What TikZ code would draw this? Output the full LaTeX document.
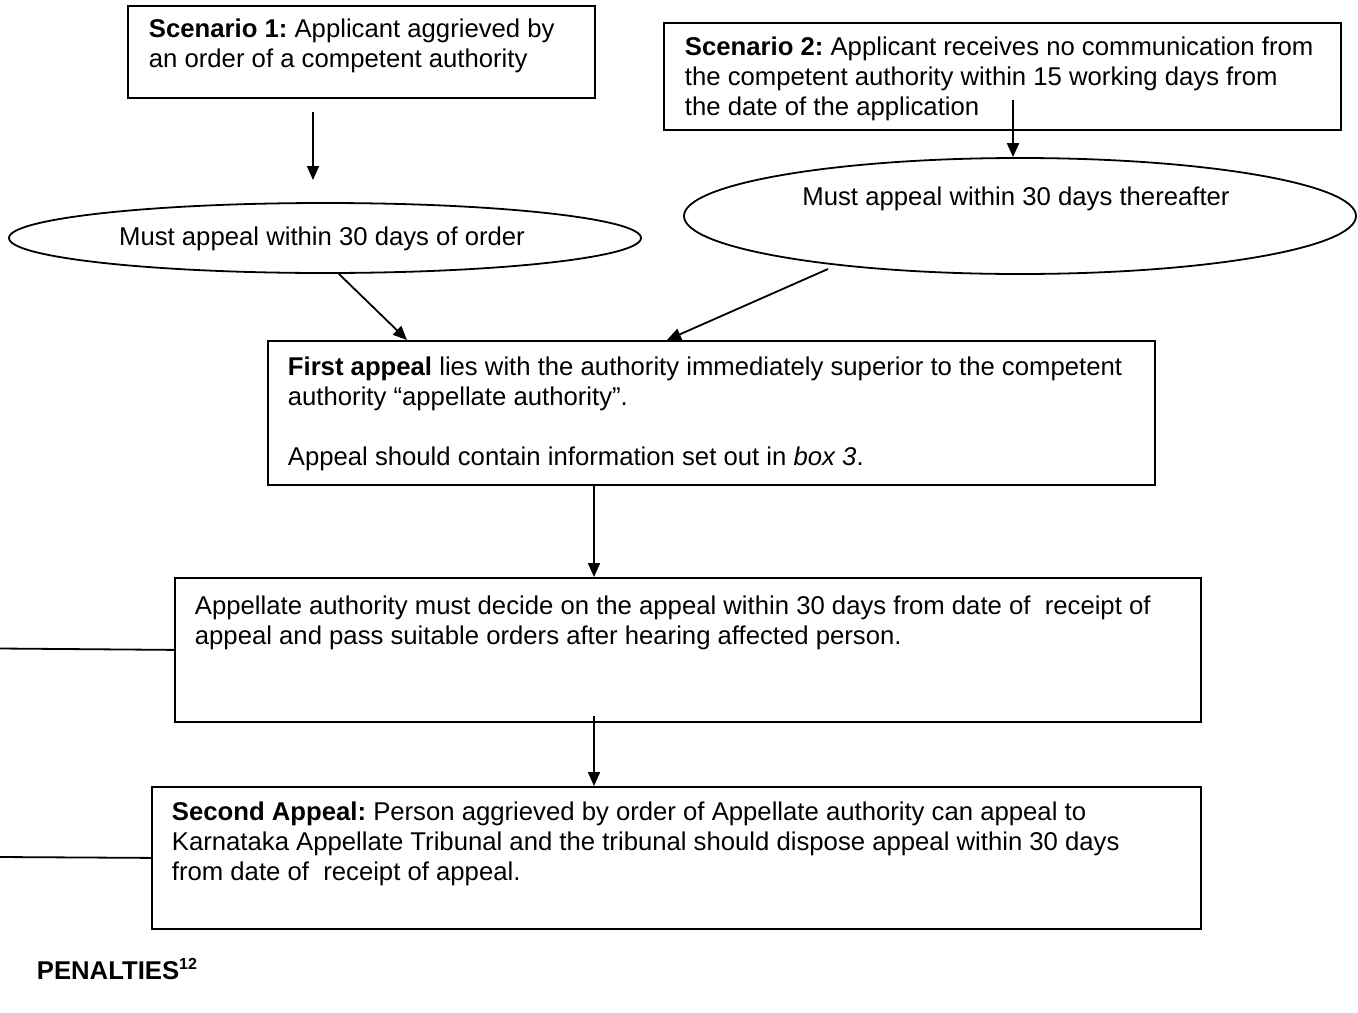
\documentclass[tikz,border=0pt]{standalone}
\usepackage{fontspec}
\setmainfont{Liberation Sans}
\usetikzlibrary{shapes.geometric,arrows.meta}
\frenchspacing
\begin{document}
\begin{tikzpicture}[x=0.5pt,y=-0.5pt,
  line width=0.9pt,
  every node/.style={font=\fontsize{12.85}{15}\selectfont},
  frame/.style={draw, rectangle, anchor=north west, inner sep=0pt},
  oval/.style={draw, ellipse, inner sep=0pt},
  txt/.style={anchor=north west, align=left, inner sep=0pt},
  lbl/.style={anchor=base, inner sep=0pt},
  arr/.style={-{Triangle[length=7pt,width=6pt]}}
]
\useasboundingbox (0,0) rectangle (1358,1012);

% boxes
\node[frame, minimum width=233.5pt, minimum height=46pt] (b1) at (127,5) {};
\node[frame, minimum width=338.5pt, minimum height=53.5pt] (b2) at (663,22) {};
\node[oval, minimum width=316pt, minimum height=35pt] (e1) at (325,238) {};
\node[oval, minimum width=336pt, minimum height=58pt] (e2) at (1020,216) {};
\node[frame, minimum width=443.5pt, minimum height=72pt] (b3) at (267,340) {};
\node[frame, minimum width=513pt, minimum height=72pt] (b4) at (174,577) {};
\node[frame, minimum width=524.5pt, minimum height=71pt] (b5) at (151,786) {};

% texts
\node[txt] (t1) at (148,16) {\strut\textbf{Scenario 1:} Applicant aggrieved by\\an order of a competent authority};
\node[txt] (t2) at (684,34) {\strut\textbf{Scenario 2:} Applicant receives no communication from\\the competent authority within 15 working days from\\the date of the application};
\node[lbl] (te1) at (322,245) {Must appeal within 30 days of order};
\node[lbl] (te2) at (1016,205) {Must appeal within 30 days thereafter};
\node[txt] (t3) at (287,354) {\strut\textbf{First appeal} lies with the authority immediately superior to the competent\\authority “appellate authority”.\\[15pt]Appeal should contain information set out in \textit{box 3}.};
\node[txt] (t4) at (194,593) {\strut Appellate authority must decide on the appeal within 30 days from date of\ \ receipt of\\appeal and pass suitable orders after hearing affected person.};
\node[txt] (t5) at (171,799) {\strut\textbf{Second Appeal:} Person aggrieved by order of Appellate authority can appeal to\\Karnataka Appellate Tribunal and the tribunal should dispose appeal within 30 days\\from date of\ \ receipt of appeal.};
\node[lbl, anchor=base west] (pen) at (36,979) {\textbf{PENALTIES\raisebox{0.38em}{\fontsize{8}{8}\selectfont 12}}};

% free connector ends
\coordinate (a1s) at (313,112);
\coordinate (a1e) at (313,180);
\coordinate (a2s) at (1013,100);
\coordinate (a3s) at (338,273);
\coordinate (a3e) at (407,340);
\coordinate (a4s) at (828,269);
\coordinate (a4e) at (667,340);
\coordinate (a5s) at (594,484);
\coordinate (a6s) at (594,716);
\coordinate (l1) at (0,648.5);
\coordinate (l2) at (0,857);

% connectors
\draw[arr] (a1s) -- (a1e);
\draw[arr] (a2s) -- (a2s |- e2.north);
\draw[arr] (a3s) -- (a3e);
\draw[arr] (a4s) -- (a4e);
\draw[arr] (a5s) -- (a5s |- b4.north);
\draw[arr] (a6s) -- (a6s |- b5.north);
\draw (l1) -- (b4.west);
\draw (l2) -- (b5.west);
\end{tikzpicture}
\end{document}
